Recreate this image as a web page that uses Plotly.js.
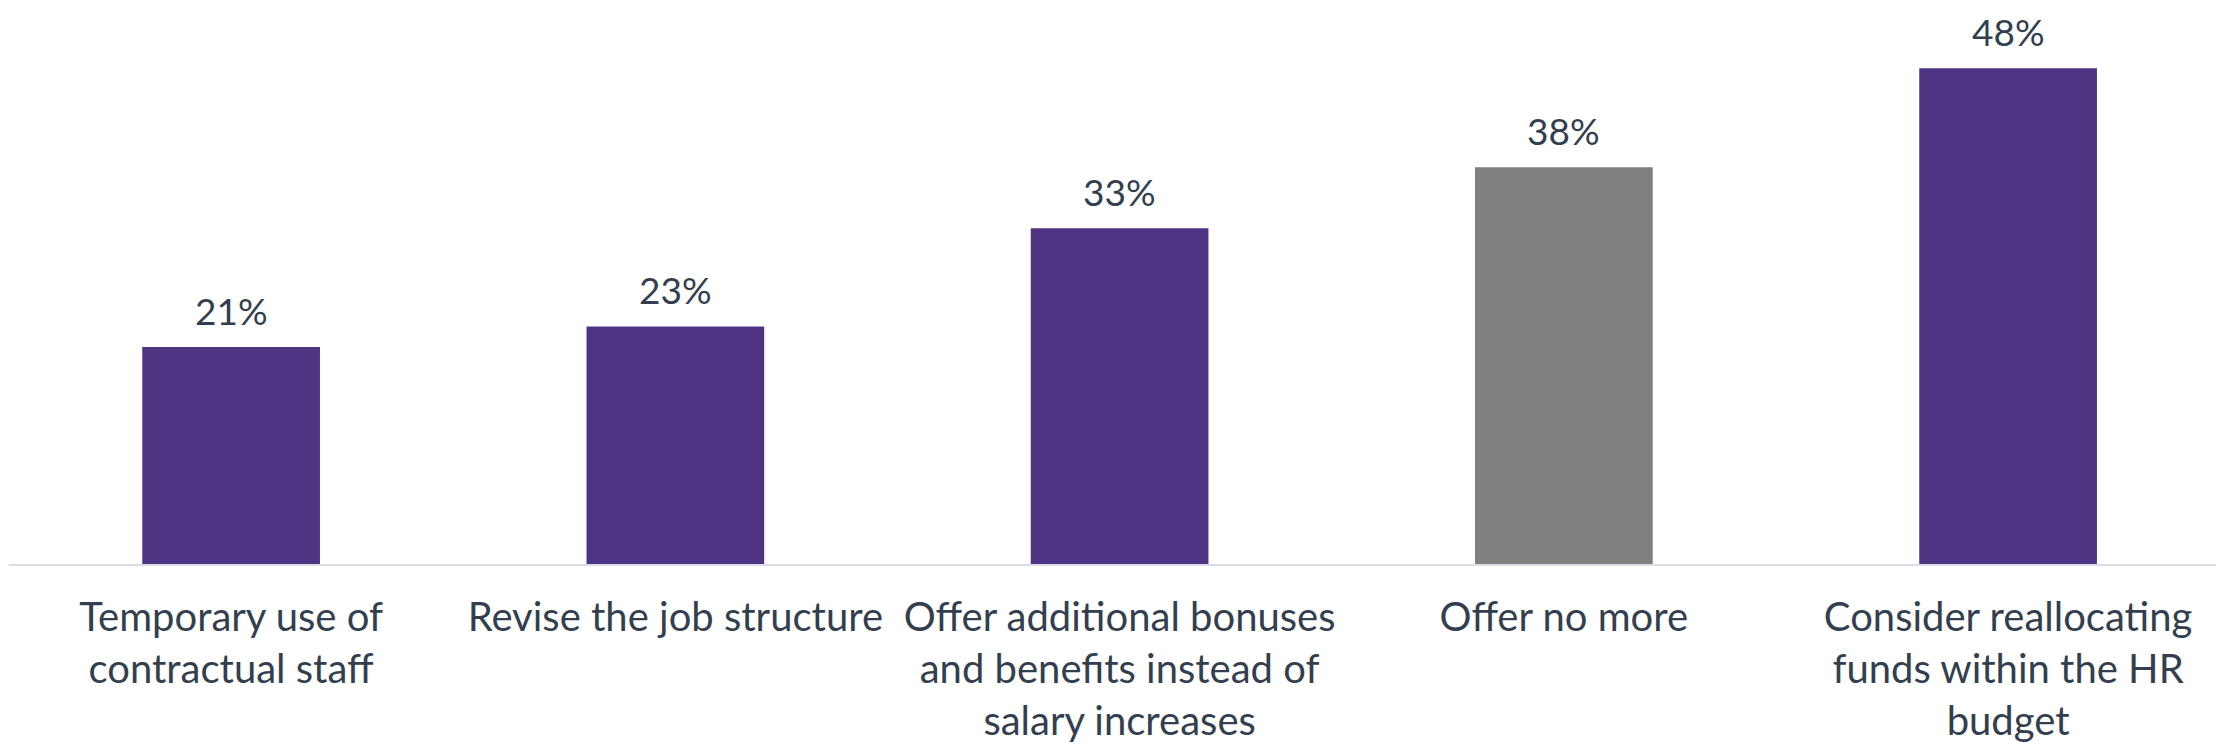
<!DOCTYPE html>
<html>
<head>
<meta charset="utf-8">
<script src="https://cdn.plot.ly/plotly-3.0.1.min.js"></script>
<style>html,body{margin:0;padding:0;background:#fff;}#chart{width:2216px;height:744px;}</style>
</head>
<body>
<div id="chart"></div>
<script>
const categories = [
  "Temporary use of<br>contractual staff",
  "Revise the job structure",
  "Offer additional bonuses<br>and benefits instead of<br>salary increases",
  "Offer no more",
  "Consider reallocating<br>funds within the HR<br>budget"
];
const values = [21, 23, 32.5, 38.4, 48];
const labelText = ["21%", "23%", "33%", "38%", "48%"];
const barColors = ["#4E3483", "#4E3483", "#4E3483", "#7F7F7F", "#4E3483"];

const textColor = "#333F4F";
const fontFamily = "Lato, 'Open Sans', sans-serif";

const trace = {
  type: "bar",
  x: categories,
  y: values,
  width: 0.4,
  marker: { color: barColors, line: { width: 0 } },
  hoverinfo: "skip"
};

const annotations = categories.map((c, i) => ({
  x: c,
  y: values[i],
  xref: "x",
  yref: "y",
  text: labelText[i],
  showarrow: false,
  yanchor: "middle",
  yshift: 37,
  font: { family: fontFamily, size: 37, color: textColor }
}));

const layout = {
  width: 2216,
  height: 744,
  margin: { l: 9, r: 0, t: 0, b: 180 },
  paper_bgcolor: "#ffffff",
  plot_bgcolor: "#ffffff",
  showlegend: false,
  bargap: 0.6,
  xaxis: {
    type: "category",
    range: [-0.5, 4.468],
    showline: true,
    linecolor: "#D9DEE6",
    linewidth: 2,
    showgrid: false,
    zeroline: false,
    ticks: "",
    ticklabelstandoff: 17,
    tickfont: { family: fontFamily, size: 40, color: textColor },
    fixedrange: true
  },
  yaxis: {
    range: [0, 54.6],
    visible: false,
    showgrid: false,
    zeroline: false,
    fixedrange: true
  },
  annotations: annotations
};

Plotly.newPlot("chart", [trace], layout, { displayModeBar: false, staticPlot: true });
</script>
</body>
</html>
